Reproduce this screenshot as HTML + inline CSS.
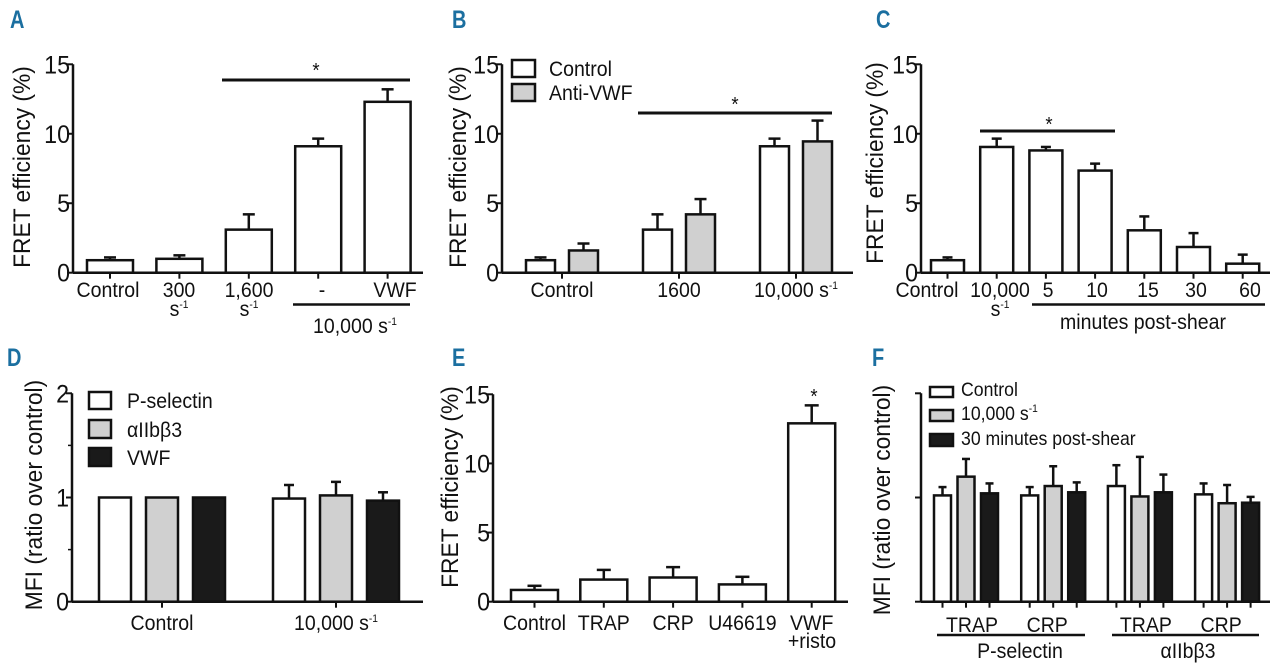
<!DOCTYPE html>
<html><head><meta charset="utf-8"><style>
html,body{margin:0;padding:0;background:#fff;}
svg{display:block;font-family:"Liberation Sans Narrow","Liberation Sans",sans-serif;}
.lbl{font-family:"Liberation Sans",sans-serif;font-weight:bold;fill:#1b6fa0;font-size:25px;}
</style></head><body>
<svg id="fig" width="1280" height="671" viewBox="0 0 1280 671">
<text class="lbl" transform="translate(10,28) scale(0.8,1)">A</text>
<text class="lbl" transform="translate(452,28) scale(0.8,1)">B</text>
<text class="lbl" transform="translate(876,28) scale(0.8,1)">C</text>
<text class="lbl" transform="translate(7,366) scale(0.8,1)">D</text>
<text class="lbl" transform="translate(452,366) scale(0.8,1)">E</text>
<text class="lbl" transform="translate(872,366) scale(0.8,1)">F</text>
</svg>
<script>
// ---- Panel A data
const aCats = ["Control","300","1,600","-","VWF"];
const aVals = [0.9,1.0,3.1,9.1,12.3];
const aErrs = [1.1,1.25,4.2,9.65,13.2];
// ---- Panel B data
const bCats = ["Control","1600","10,000 s"];
const bControl = [0.9,3.1,9.1];
const bControlErr = [1.1,4.2,9.65];
const bAnti = [1.6,4.2,9.45];
const bAntiErr = [2.1,5.3,10.95];
// ---- Panel C data
const cCats = ["Control","10,000","5","10","15","30","60"];
const cVals = [0.9,9.05,8.8,7.35,3.05,1.85,0.65];
const cErrs = [1.1,9.65,9.05,7.85,4.05,2.85,1.3];
// ---- Panel D data
const dCats = ["Control","10,000 s"];
const dPsel = [1.0,0.99];
const dPselErr = [null,1.12];
const dAiib = [1.0,1.02];
const dAiibErr = [null,1.15];
const dVwf = [1.0,0.97];
const dVwfErr = [null,1.05];
// ---- Panel E data
const eCats = ["Control","TRAP","CRP","U46619","VWF"];
const eVals = [0.85,1.6,1.75,1.25,12.9];
const eErrs = [1.15,2.3,2.5,1.8,14.2];
// ---- Panel F data
const fCats = ["TRAP","CRP","TRAP","CRP"];
const fControl = [1.02,1.02,1.11,1.03];
const fControlErr = [1.10,1.10,1.31,1.135];
const fShear = [1.20,1.11,1.01,0.945];
const fShearErr = [1.37,1.30,1.39,1.12];
const fPost = [1.04,1.05,1.05,0.95];
const fPostErr = [1.135,1.145,1.22,1.006];
const yTicksFret = ["0","5","10","15"];
const yTicksMfi = ["0","1","2"];

const NS="http://www.w3.org/2000/svg";
const svg=document.getElementById('fig');
const SX=0.93;
function mk(tag,attrs,parent){const e=document.createElementNS(NS,tag);for(const k in attrs)e.setAttribute(k,attrs[k]);(parent||svg).appendChild(e);return e;}
function txt(x,y,s,size,anchor,parent){const t=mk('text',{x:0,y:0,transform:'translate('+x+','+y+') scale('+SX+',1)','font-size':size,'text-anchor':anchor||'middle',fill:'#111'},parent);t.textContent=s;return t;}
function sup(t,s){const ts=document.createElementNS(NS,'tspan');ts.setAttribute('dy','-8');ts.setAttribute('font-size','11');ts.textContent=s;t.appendChild(ts);}
const FILL={w:'#fff',g:'#d0d0d0',k:'#1a1a1a'};

function axes(g,ax,y0,ytop,maxV,right,ticks,labels,minor){
  const ys=v=>y0-(y0-ytop)*v/maxV;
  mk('line',{x1:ax,y1:ytop,x2:ax,y2:y0,stroke:'#111','stroke-width':2.5},g);
  mk('line',{x1:ax,y1:y0,x2:right,y2:y0,stroke:'#111','stroke-width':2.5},g);
  ticks.forEach((v,i)=>{mk('line',{x1:ax-6,y1:ys(v),x2:ax,y2:ys(v),stroke:'#111','stroke-width':2},g);
    if(labels&&labels[i]!=null){const t=txt(ax-3,ys(v)+9,labels[i],25,'end',g);
      
      }});
  (minor||[]).forEach(v=>mk('line',{x1:ax-4,y1:ys(v),x2:ax,y2:ys(v),stroke:'#111','stroke-width':1.5},g));
  return ys;
}
function bar(g,cx,w,v,err,ys,fill,cap,name){
  const y0=ys(0),yt=ys(v);
  if(err!=null){const ye=ys(err);
    mk('line',{x1:cx,y1:yt,x2:cx,y2:ye,stroke:'#111','stroke-width':2.5},g);
    mk('line',{x1:cx-cap/2,y1:ye,x2:cx+cap/2,y2:ye,stroke:'#111','stroke-width':2.5},g);}
  const r=mk('rect',{x:cx-w/2,y:yt,width:w,height:y0-yt,fill:fill,stroke:'#111','stroke-width':2.5},g);
  
  
  return r;
}
function ytitle(g,x,y,s,size){const t=mk('text',{x:0,y:0,'font-size':size||24,'text-anchor':'middle',fill:'#111',transform:'translate('+x+','+y+') rotate(-90) scale(0.95,1)'},g);t.textContent=s;
  
  }
function xtick(g,x,y0){mk('line',{x1:x,y1:y0,x2:x,y2:y0+6,stroke:'#111','stroke-width':2},g);}
function legend(g,x,y,w,h,fill,label,tx,size){const r=mk('rect',{x:x,y:y,width:w,height:h,fill:fill,stroke:'#111','stroke-width':2.5},g);
  
  
  const t=txt(tx,y+h-1,label,size||21,'start',g);
  
  return t;}

// ===== Panel A
{const g=mk('g',{});
 const ys=axes(g,73,272.7,64.3,15,423,[0,5,10,15],yTicksFret);
 ytitle(g,30,167,'FRET efficiency (%)');
 aCats.forEach((c,i)=>{const cx=110+i*69.4;xtick(g,cx,272.7);bar(g,cx,46,aVals[i],aErrs[i],ys,FILL.w,12,'bar-a-'+i);});
 txt(108,297,'Control',21,'middle',g);
 txt(179,297,'300',21,'middle',g);let t=txt(179,316,'s',21,'middle',g);sup(t,'-1');
 txt(249,297,'1,600',21,'middle',g);t=txt(249,316,'s',21,'middle',g);sup(t,'-1');
 txt(322,297,'-',21,'middle',g);txt(395,297,'VWF',21,'middle',g);
 mk('line',{x1:293,y1:304.5,x2:410,y2:304.5,stroke:'#111','stroke-width':2.5},g);
 t=txt(355,333,'10,000 s',21,'middle',g);sup(t,'-1');
 const sl=mk('line',{x1:222,y1:80,x2:410,y2:80,stroke:'#111','stroke-width':3},g);
 
 
 txt(316,77,'*',20,'middle',g);}

// ===== Panel B
{const g=mk('g',{});
 const ys=axes(g,502,272.7,64.3,15,853,[0,5,10,15],yTicksFret);
 ytitle(g,466,167,'FRET efficiency (%)');
 bCats.forEach((c,i)=>{const cx=562+i*117;xtick(g,cx,272.7);
   bar(g,cx-21.5,29,bControl[i],bControlErr[i],ys,FILL.w,12,'bar-b-control-'+i);
   bar(g,cx+21.5,29,bAnti[i],bAntiErr[i],ys,FILL.g,12,'bar-b-antivwf-'+i);
   const t=txt(cx,297,c,21,'middle',g);if(i==2)sup(t,'-1');});
 legend(g,512,60,23,17,FILL.w,'Control',549);
 legend(g,512,84,23,17,FILL.g,'Anti-VWF',549);
 const sl=mk('line',{x1:638,y1:113,x2:832,y2:113,stroke:'#111','stroke-width':3},g);
 
 
 txt(735,111,'*',20,'middle',g);}

// ===== Panel C
{const g=mk('g',{});
 const ys=axes(g,921,272.7,64.3,15,1270,[0,5,10,15],yTicksFret);
 ytitle(g,883,163,'FRET efficiency (%)');
 const lx=[927,1000,1048,1097,1148,1196,1250];
 cCats.forEach((c,i)=>{const cx=947.5+i*49.2;xtick(g,cx,272.7);bar(g,cx,33,cVals[i],cErrs[i],ys,FILL.w,10,'bar-c-'+i);
   txt(lx[i],297,c,21,'middle',g);});
 let t=txt(1000,316,'s',21,'middle',g);sup(t,'-1');
 mk('line',{x1:1032,y1:304.5,x2:1265,y2:304.5,stroke:'#111','stroke-width':2.5},g);
 txt(1143,329,'minutes post-shear',21,'middle',g);
 const sl=mk('line',{x1:980,y1:131,x2:1115,y2:131,stroke:'#111','stroke-width':3},g);
 
 
 txt(1049,131,'*',20,'middle',g);}

// ===== Panel D
{const g=mk('g',{});
 const ys=axes(g,72,601.7,393.3,2,423,[0,1,2],yTicksMfi,[0.5,1.5]);
 ytitle(g,42,495,'MFI (ratio over control)');
 dCats.forEach((c,i)=>{const cx=162+i*174;xtick(g,cx,601.7);
   bar(g,cx-47,32,dPsel[i],dPselErr[i],ys,FILL.w,10,'bar-d-pselectin-'+i);
   bar(g,cx,32,dAiib[i],dAiibErr[i],ys,FILL.g,10,'bar-d-aiib-'+i);
   bar(g,cx+47,32,dVwf[i],dVwfErr[i],ys,FILL.k,10,'bar-d-vwf-'+i);
   const t=txt(cx,630,c,21,'middle',g);if(i==1)sup(t,'-1');});
 legend(g,89,392,22,17,FILL.w,'P-selectin',127);
 legend(g,89,420,22,18,FILL.g,'\u03b1IIb\u03b23',127);
 legend(g,89,448,22,18,FILL.k,'VWF',127);}

// ===== Panel E
{const g=mk('g',{});
 const ys=axes(g,493,601.7,394.3,15,848,[0,5,10,15],yTicksFret);
 ytitle(g,458,487,'FRET efficiency (%)');
 eCats.forEach((c,i)=>{const cx=534.5+i*69.3;xtick(g,cx,601.7);bar(g,cx,47,eVals[i],eErrs[i],ys,FILL.w,14,'bar-e-'+i);
   txt(cx,630,c,21,'middle',g);});
 txt(812,648,'+risto',21,'middle',g);
 txt(814,403,'*',20,'middle',g);}

// ===== Panel F
{const g=mk('g',{});
 const ys=axes(g,921,601.7,393.3,2,1270,[0,1,2],null);
 ytitle(g,890,500,'MFI (ratio over control)');
 fCats.forEach((c,i)=>{const cx=966+i*87.2+(i>=2?-0.5:0);
   [[fControl,fControlErr,FILL.w,'control'],[fShear,fShearErr,FILL.g,'shear'],[fPost,fPostErr,FILL.k,'postshear']].forEach((s,j)=>{
     const bx=cx+(j-1)*23.5;xtick(g,bx,601.7);bar(g,bx,17,s[0][i],s[1][i],ys,s[2],8,'bar-f-'+s[3]+'-'+i);});
   txt(cx+(i%2==0?6:-6),632,c,21,'middle',g);});
 mk('line',{x1:937,y1:635,x2:1085,y2:635,stroke:'#111','stroke-width':2.5},g);
 mk('line',{x1:1112,y1:635,x2:1259,y2:635,stroke:'#111','stroke-width':2.5},g);
 txt(1020,658,'P-selectin',21,'middle',g);
 txt(1188,658,'\u03b1IIb\u03b23',21,'middle',g);
 legend(g,930,387,23,10,FILL.w,'Control',961,19);
 const sh=legend(g,930,410,23,11,FILL.g,'10,000 s',961,19);
 sup(sh,'-1');
 legend(g,930,434,23,12,FILL.k,'30 minutes post-shear',961,19);}
</script>
</body></html>
